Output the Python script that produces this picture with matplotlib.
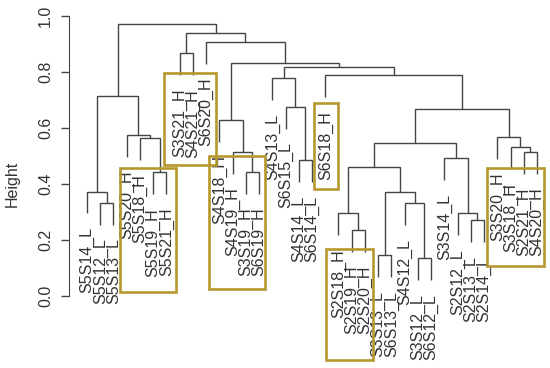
import numpy as np
import matplotlib.pyplot as plt
from matplotlib.patches import Rectangle

labels = [
    "S5S14_L", "S5S12_L", "S5S13_L", "S5S20_H", "S5S18_H", "S5S19_H", "S5S21_H",
    "S3S21_H", "S4S21_H", "S6S20_H", "S4S18_H", "S4S19_H", "S3S19_H", "S6S19_H",
    "S4S13_L", "S6S15_L", "S4S14_L", "S6S14_L", "S6S18_H", "S2S18_H", "S2S19_H",
    "S2S20_H", "S3S13_L", "S6S13_L", "S4S12_L", "S3S12_L", "S6S12_L", "S3S14_L",
    "S2S12_L", "S2S13_L", "S2S14_L", "S3S20_H", "S3S18_H", "S2S21_H", "S4S20_H",
]

# hclust-style merges: negative = leaf (1-based), positive = earlier merge row
merge_a = [-26, -23, -21, -30, -29, -20, -25, -2, -1, 2, -6, -13, 6, -17, -28, -34, -12,
           -33, 13, -5, -32, -4, -11, 19, -16, 9, -15, -19, 27, 23, -8, -10, 31, 26]
merge_b = [-27, -24, -22, -31, 4, 3, 1, -3, 8, 7, -7, -14, 10, -18, 5, -35, 12,
           16, 15, 11, 18, 20, 17, 21, 14, 22, 25, 24, 28, 29, -9, 30, 32, 33]
merge_h = [0.135, 0.146, 0.236, 0.271, 0.295, 0.295, 0.331, 0.333, 0.373, 0.373,
           0.442, 0.444, 0.462, 0.486, 0.492, 0.515, 0.515, 0.531, 0.545, 0.563,
           0.568, 0.575, 0.629, 0.667, 0.676, 0.716, 0.778, 0.789, 0.819, 0.831,
           0.867, 0.908, 0.940, 0.971]
hang = 0.078

# highlighted groups: leaf span and height span of each box
box_x0 = [3.49, 6.83, 10.24, 18.17, 19.06, 31.25]
box_x1 = [7.72, 10.74, 14.45, 19.93, 22.59, 35.53]
box_y0 = [0.016, 0.468, 0.024, 0.381, -0.229, 0.107]
box_y1 = [0.456, 0.797, 0.500, 0.688, 0.168, 0.456]

line_col = "#454545"
text_col = "#333333"
box_col = "#B8972E"
fs = 11.5

plt.rcParams["font.family"] = ["Liberation Sans", "DejaVu Sans"]

fig = plt.figure(figsize=(5.5, 3.68), dpi=100)
ax = fig.add_axes([0, 0, 1, 1])
ax.set_facecolor("white")

n = len(labels)
node_x = {}
leaf_bottom = {}


def child_pos(c, h):
    if c < 0:
        x = -c
        leaf_bottom[x] = h - hang
        return x, h - hang
    return node_x[c], merge_h[c - 1]


for i, (a, b, h) in enumerate(zip(merge_a, merge_b, merge_h), start=1):
    xa, ya = child_pos(a, h)
    xb, yb = child_pos(b, h)
    ax.plot([xa, xa, xb, xb], [ya, h, h, yb], color=line_col, lw=1.0,
            solid_joinstyle="miter", solid_capstyle="butt")
    node_x[i] = (xa + xb) / 2

for i, lab in enumerate(labels, start=1):
    ax.annotate(lab, (i, leaf_bottom[i]), xytext=(0, -10), textcoords="offset points",
                rotation=90, ha="center", va="top", fontsize=fs, color=text_col)

for x0, x1, y0, y1 in zip(box_x0, box_x1, box_y0, box_y1):
    ax.add_patch(Rectangle((x0, y0), x1 - x0, y1 - y0, fill=False,
                           edgecolor=box_col, lw=1.9, zorder=5))

s = (537 - 87) / 34
ax.set_xlim(1 - 87 / s, 1 + 463 / s)
ax.set_ylim(-72 / 280, 296 / 280)

for side in ["top", "right", "bottom"]:
    ax.spines[side].set_visible(False)
ax.spines["left"].set_position(("data", 1 - 18 / s))
ax.spines["left"].set_bounds(0, 1)
ax.spines["left"].set_color(line_col)
ax.set_xticks([])
ax.set_yticks(np.arange(0, 1.01, 0.2))
ax.set_yticklabels([f"{v:.1f}" for v in np.arange(0, 1.01, 0.2)], rotation=90,
                   va="center", fontsize=fs, color=text_col)
ax.tick_params(axis="y", length=5.5, width=1.0, color=line_col, pad=6)

fig.text(12 / 550, 0.5, "Height", rotation=90, ha="center", va="center",
         fontsize=fs, color=text_col)

fig.savefig("out.png", dpi=100)
